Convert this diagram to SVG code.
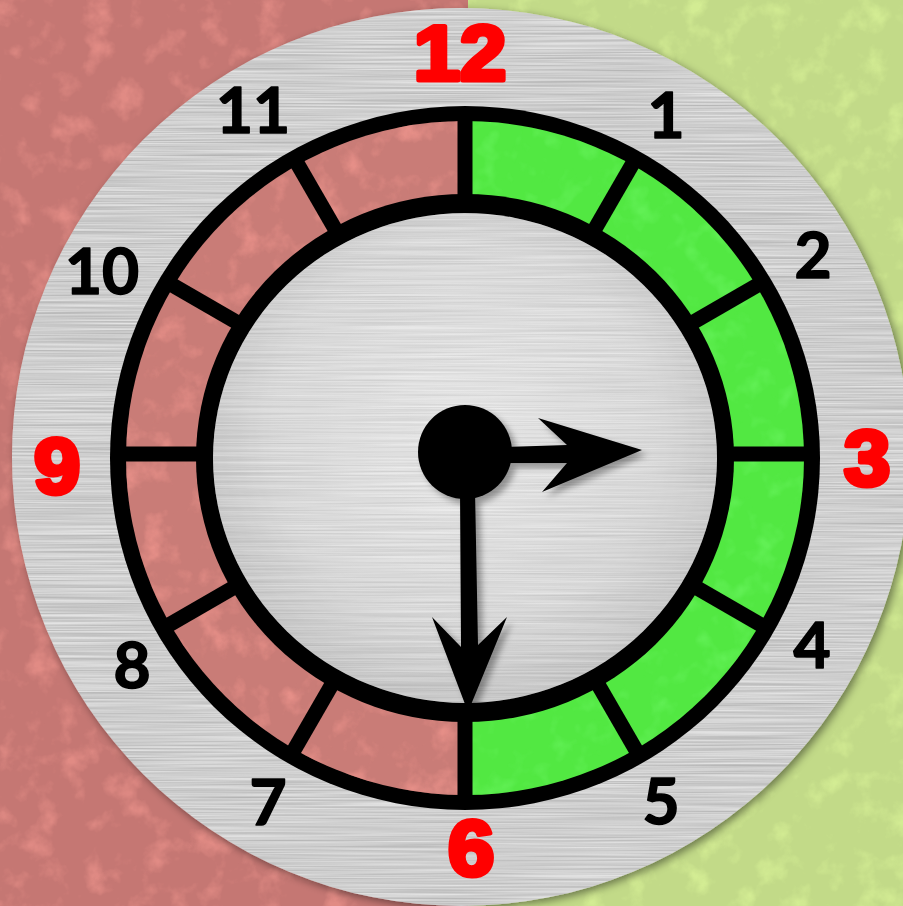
<svg xmlns="http://www.w3.org/2000/svg" width="903" height="906" viewBox="0 0 903 906">
  <style>
    .n { font-family: Lato, "Open Sans", "Liberation Sans", sans-serif; font-weight: 700; font-size: 64px; fill: #000; stroke: #000; stroke-width: 1.6; stroke-linejoin: round; text-anchor: middle; }
    .r { font-family: "Liberation Sans", Arial, sans-serif; font-weight: 700; font-size: 77px; fill: #ff0000; stroke: #ff0000; stroke-width: 5; stroke-linejoin: round; text-anchor: middle; }
    .div { stroke: #000; stroke-width: 15; stroke-linecap: butt; }
  </style>
  <defs>
    <filter id="noiseR" filterUnits="userSpaceOnUse" x="0" y="0" width="903" height="906" color-interpolation-filters="sRGB">
      <feTurbulence type="fractalNoise" baseFrequency="0.035" numOctaves="4" seed="4"/>
      <feColorMatrix type="matrix" values="0 0 0 0 0.93  0 0 0 0 0.58  0 0 0 0 0.55  3 0 0 0 -1.55"/>
    </filter>
    <filter id="noiseG" filterUnits="userSpaceOnUse" x="0" y="0" width="903" height="906" color-interpolation-filters="sRGB">
      <feTurbulence type="fractalNoise" baseFrequency="0.035" numOctaves="4" seed="9"/>
      <feColorMatrix type="matrix" values="0 0 0 0 0.86  0 0 0 0 0.96  0 0 0 0 0.6  3 0 0 0 -1.55"/>
    </filter>
    <filter id="noiseS" filterUnits="userSpaceOnUse" x="0" y="0" width="903" height="906" color-interpolation-filters="sRGB">
      <feTurbulence type="fractalNoise" baseFrequency="0.04" numOctaves="3" seed="2"/>
      <feColorMatrix type="matrix" values="0 0 0 0 0.45  0 0 0 0 0.98  0 0 0 0 0.42  3 0 0 0 -1.5"/>
    </filter>
    <filter id="brush" filterUnits="userSpaceOnUse" x="0" y="0" width="903" height="906" color-interpolation-filters="sRGB">
      <feTurbulence type="fractalNoise" baseFrequency="0.006 0.6" numOctaves="2" seed="7"/>
      <feColorMatrix type="matrix" values="0.7 0 0 0 0.45  0.7 0 0 0 0.45  0.7 0 0 0 0.45  0 0 0 0 0.4"/>
    </filter>
    <filter id="discShadow" x="-10%" y="-10%" width="120%" height="120%">
      <feDropShadow dx="3" dy="3" stdDeviation="4" flood-color="#000" flood-opacity="0.45"/>
    </filter>
    <filter id="handShadow" x="-20%" y="-20%" width="140%" height="140%">
      <feDropShadow dx="5" dy="5" stdDeviation="3" flood-color="#000" flood-opacity="0.35"/>
    </filter>
    <radialGradient id="face" cx="50%" cy="45%" r="55%">
      <stop offset="0" stop-color="#ececec"/>
      <stop offset="0.7" stop-color="#dcdcdc"/>
      <stop offset="1" stop-color="#c4c4c4"/>
    </radialGradient>
    <clipPath id="clipLeft"><rect x="0" y="0" width="468" height="906"/></clipPath>
    <clipPath id="clipRight"><rect x="468" y="0" width="435" height="906"/></clipPath>
    <clipPath id="clipDisc"><circle cx="461" cy="457" r="449"/></clipPath>
    <clipPath id="clipFace"><ellipse cx="465" cy="458" rx="252" ry="245"/></clipPath>
    <clipPath id="clipLeftBand"><path d="M465,121 A339,337 0 0 0 465,795 Z"/></clipPath>
    <clipPath id="clipRightBand"><path d="M465,121 A339,337 0 0 1 465,795 Z"/></clipPath>
  </defs>

  <g id="background">
    <rect x="0" y="0" width="468" height="906" fill="#c57773"/>
    <rect x="468" y="0" width="435" height="906" fill="#c2da88"/>
    <rect x="0" y="0" width="903" height="906" filter="url(#noiseR)" opacity="0.7" clip-path="url(#clipLeft)"/>
    <rect x="0" y="0" width="903" height="906" filter="url(#noiseG)" opacity="0.7" clip-path="url(#clipRight)"/>
  </g>

  <g id="disc">
    <circle cx="461" cy="457" r="449" fill="#d0d0d0" filter="url(#discShadow)"/>
    <rect x="0" y="0" width="903" height="906" filter="url(#brush)" clip-path="url(#clipDisc)"/>
  </g>

  <g id="ring">
    <ellipse cx="465" cy="458" rx="355" ry="352" fill="#000"/>
    <g id="red-segments">
      <path d="M465,121 A339,337 0 0 0 465,795 Z" fill="#c97c77"/>
      <rect x="0" y="0" width="903" height="906" filter="url(#noiseR)" opacity="0.8" clip-path="url(#clipLeftBand)"/>
    </g>
    <g id="green-segments">
      <path d="M465,121 A339,337 0 0 1 465,795 Z" fill="#52e842"/>
      <rect x="0" y="0" width="903" height="906" filter="url(#noiseS)" opacity="0.45" clip-path="url(#clipRightBand)"/>
    </g>
    <g id="dividers">
      <line class="div" x1="465" y1="454" x2="465" y2="109"/>
      <line class="div" x1="465" y1="454" x2="637.5" y2="155.2"/>
      <line class="div" x1="465" y1="454" x2="763.8" y2="281.5"/>
      <line class="div" x1="465" y1="454" x2="810" y2="454"/>
      <line class="div" x1="465" y1="454" x2="763.8" y2="626.5"/>
      <line class="div" x1="465" y1="454" x2="637.5" y2="752.8"/>
      <line class="div" x1="465" y1="454" x2="465" y2="799"/>
      <line class="div" x1="465" y1="454" x2="292.5" y2="752.8"/>
      <line class="div" x1="465" y1="454" x2="166.2" y2="626.5"/>
      <line class="div" x1="465" y1="454" x2="120" y2="454"/>
      <line class="div" x1="465" y1="454" x2="166.2" y2="281.5"/>
      <line class="div" x1="465" y1="454" x2="292.5" y2="155.2"/>
    </g>
    <ellipse cx="465" cy="458" rx="269" ry="264" fill="#000"/>
  </g>

  <g id="face-plate">
    <ellipse cx="465" cy="458" rx="252" ry="245" fill="url(#face)"/>
    <rect x="0" y="0" width="903" height="906" filter="url(#brush)" opacity="0.6" clip-path="url(#clipFace)"/>
  </g>

  <g id="numerals">
    <g id="n12"><text class="r" transform="translate(460 80) scale(1.08 1)" x="0" y="0">12</text></g>
    <g id="n3"><text class="r" transform="translate(867 485) scale(1.08 1)" x="0" y="0">3</text></g>
    <g id="n6"><text class="r" transform="translate(471 875) scale(1.08 1)" x="0" y="0">6</text></g>
    <g id="n9"><text class="r" transform="translate(57 493) scale(1.08 1)" x="0" y="0">9</text></g>
    <g id="n1"><text class="n" x="666" y="138">1</text></g>
    <g id="n2"><text class="n" x="813" y="278">2</text></g>
    <g id="n4"><text class="n" x="812" y="668">4</text></g>
    <g id="n5"><text class="n" x="661" y="824">5</text></g>
    <g id="n7"><text class="n" x="268" y="825">7</text></g>
    <g id="n8"><text class="n" x="132" y="688">8</text></g>
    <g id="n10"><text class="n" x="102" y="294">10</text></g>
    <g id="n11"><text class="n" x="253" y="133">11</text></g>
  </g>

  <g id="hands" filter="url(#handShadow)">
    <polygon id="hour-hand" points="505,447 567,445 538,418 642,450 542,492 567,463 505,463" fill="#000"/>
    <polygon id="minute-hand" points="460,490 475,490 478,645 507,617 468,712 432,617 461,647" fill="#000"/>
    <circle id="hub" cx="465" cy="452" r="47" fill="#000"/>
  </g>
</svg>
